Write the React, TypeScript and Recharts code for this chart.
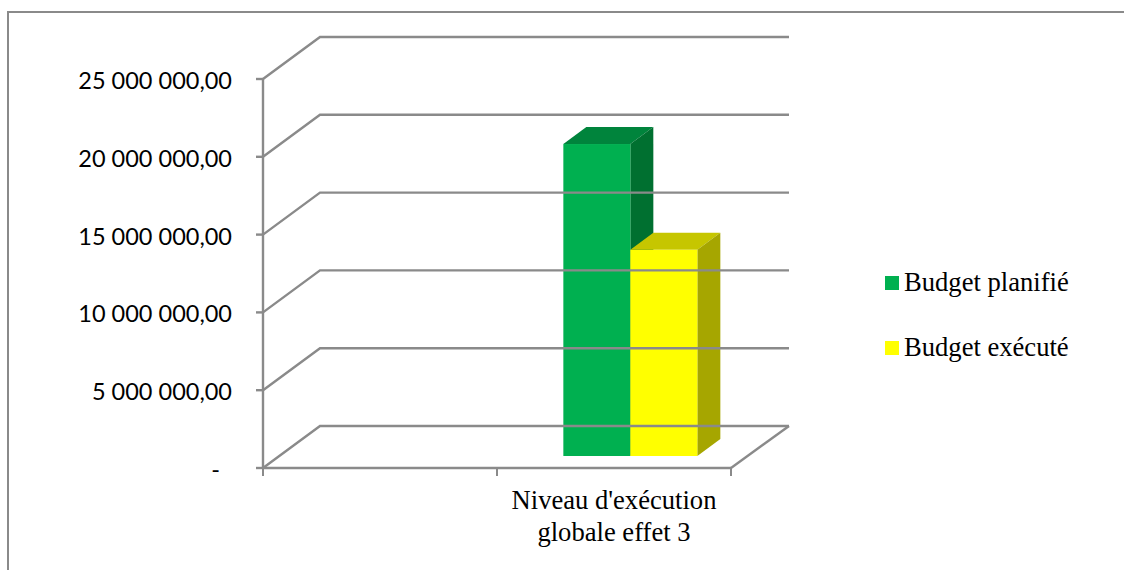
import { BarChart, Bar, XAxis, YAxis, Legend } from 'recharts';

const CATEGORIES = ['', "Niveau d'exécution globale effet 3"];
const CATEGORY_LINES = ["Niveau d'exécution", 'globale effet 3'];
const PLANNED = [null, 20050000];
const EXECUTED = [null, 13250000];
const Y_TICKS = [0, 5000000, 10000000, 15000000, 20000000, 25000000];

const GRID = '#8a8a8a';
const SERIF = '"Liberation Serif", serif';

// 3D look of the Excel chart: wall is pushed back, bars stand mid-floor
const WALL_DX = 57;
const WALL_DY = -42;
const WALL_W = 469;
const BAR_SHIFT_X = 16.5;
const BAR_SHIFT_Y = -12;
const DEPTH_X = 23;
const DEPTH_Y = -17;

const data = CATEGORIES.map((name, i) => ({ name, planned: PLANNED[i], executed: EXECUTED[i] }));

function formatValue(v: number) {
  if (v === 0) return '-';
  return String(v).replace(/\B(?=(\d{3})+$)/g, ' ') + ',00';
}

function YTick({ x, y, payload }: any) {
  const isZero = payload.value === 0;
  return (
    <g>
      <polyline
        points={`${x},${y} ${x + WALL_DX},${y + WALL_DY} ${x + WALL_DX + WALL_W},${y + WALL_DY}`}
        fill="none"
        stroke={GRID}
        strokeWidth={2.4}
      />
      <line x1={x - 7} y1={y} x2={x} y2={y} stroke={GRID} strokeWidth={2.4} />
      <text
        x={isZero ? 220 : 232}
        y={y + 10}
        textAnchor="end"
        fontFamily="Lato, sans-serif"
        fontSize={23.5}
        fill="#000"
      >
        {formatValue(payload.value)}
      </text>
    </g>
  );
}

function XTick({ x, y, index }: any) {
  const half = 117;
  return (
    <g>
      {index === 0 && <line x1={x - half} y1={y} x2={x - half} y2={y + 8} stroke={GRID} strokeWidth={2} />}
      <line x1={x + half} y1={y} x2={x + half} y2={y + 8} stroke={GRID} strokeWidth={2} />
      {index === 1 && (
        <>
          <line x1={x + half} y1={y} x2={x + half + WALL_DX + 1} y2={y + WALL_DY} stroke={GRID} strokeWidth={2.4} />
          {CATEGORY_LINES.map((line, i) => (
            <text key={line} x={x} y={y + 41 + i * 32} textAnchor="middle" fontFamily={SERIF} fontSize={26.6} fill="#000">
              {line}
            </text>
          ))}
        </>
      )}
    </g>
  );
}

function Bar3D({ x, y, width, height, fill, topFill, sideFill }: any) {
  if (!height) return null;
  const l = x + BAR_SHIFT_X;
  const t = y + BAR_SHIFT_Y;
  const r = l + width;
  const b = t + height;
  return (
    <g>
      <polygon
        points={`${l},${t} ${l + DEPTH_X},${t + DEPTH_Y} ${r + DEPTH_X},${t + DEPTH_Y} ${r},${t}`}
        fill={topFill}
      />
      <polygon
        points={`${r},${t} ${r + DEPTH_X},${t + DEPTH_Y} ${r + DEPTH_X},${b + DEPTH_Y} ${r},${b}`}
        fill={sideFill}
      />
      <rect x={l} y={t} width={width} height={height} fill={fill} />
    </g>
  );
}

function LegendBox({ payload }: any) {
  return (
    <div>
      {(payload ?? []).map((item: any) => (
        <div key={item.value} style={{ display: 'flex', alignItems: 'center', height: 65 }}>
          <span style={{ width: 14, height: 14, background: item.color, marginRight: 5 }} />
          <span style={{ fontFamily: SERIF, fontSize: 26.6, color: '#000' }}>{item.value}</span>
        </div>
      ))}
    </div>
  );
}

export default function App() {
  return (
    <div style={{ position: 'absolute', left: 0, top: 0, width: 1124, height: 570, overflow: 'hidden', background: '#fff' }}>
      <div
        style={{
          position: 'absolute',
          left: 7,
          top: 11,
          width: 1117,
          height: 559,
          borderLeft: `2px solid ${GRID}`,
          borderTop: `2px solid ${GRID}`,
        }}
      />
      <BarChart
        width={1124}
        height={570}
        data={data}
        margin={{ top: 79, right: 393, bottom: 42, left: 0 }}
        barCategoryGap="21.3%"
        barGap={0}
        style={{ position: 'absolute', left: 0, top: 0 }}
      >
        <XAxis
          dataKey="name"
          height={60}
          interval={0}
          tickLine={false}
          tickSize={0}
          tickMargin={0}
          axisLine={{ stroke: GRID, strokeWidth: 2.4 }}
          tick={<XTick />}
        />
        <YAxis
          width={263}
          domain={[0, 25000000]}
          ticks={Y_TICKS}
          tickLine={false}
          tickSize={0}
          tickMargin={0}
          axisLine={{ stroke: GRID, strokeWidth: 2.4 }}
          tick={<YTick />}
        />
        <Legend
          layout="vertical"
          align="center"
          verticalAlign="middle"
          itemSorter={null}
          content={<LegendBox />}
          wrapperStyle={{ position: 'absolute', left: 885, top: 250, width: 230, bottom: 'auto' }}
        />
        <Bar
          dataKey="planned"
          name="Budget planifié"
          fill="#00B050"
          isAnimationActive={false}
          shape={(p: any) => <Bar3D {...p} fill="#00B050" topFill="#00843C" sideFill="#007030" />}
        />
        <Bar
          dataKey="executed"
          name="Budget exécuté"
          fill="#FFFF00"
          isAnimationActive={false}
          shape={(p: any) => <Bar3D {...p} fill="#FFFF00" topFill="#C6C600" sideFill="#A6A600" />}
        />
      </BarChart>
    </div>
  );
}
